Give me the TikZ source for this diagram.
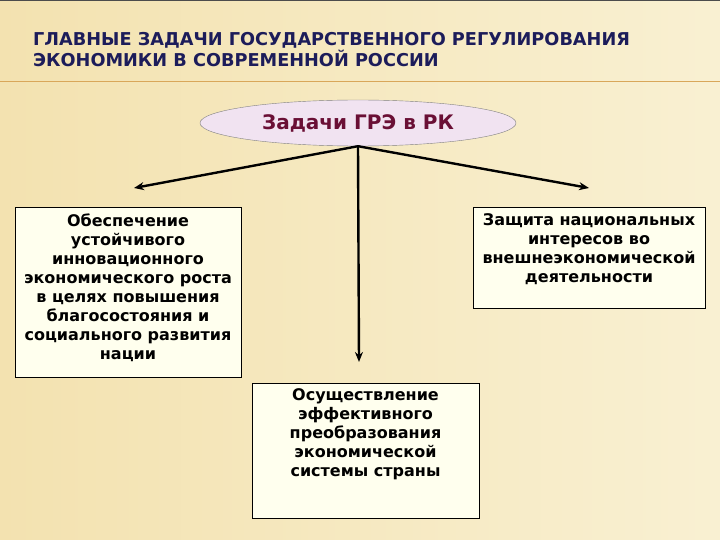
\documentclass[tikz,border=0pt]{standalone}
\usepackage{fontspec}
\setmainfont{DejaVu Sans}
\usetikzlibrary{shapes.geometric, arrows.meta}

\definecolor{bgleft}{HTML}{F3E2B0}
\definecolor{bgright}{HTML}{F9F0D2}
\definecolor{titleblue}{HTML}{1C1C5A}
\definecolor{ovalfill}{HTML}{F1E3F1}
\definecolor{ovaltext}{HTML}{6A0F35}
\definecolor{boxfill}{HTML}{FFFFEE}
\definecolor{rulecol}{HTML}{D9A75A}

\begin{document}
\begin{tikzpicture}[x=1pt, y=-1pt,
    taskbox/.style={draw=black, fill=boxfill, line width=0.8pt, inner sep=0pt},
    tasktext/.style={anchor=north, align=center, font=\bfseries\fontsize{16}{19}\selectfont},
    branch/.style={line width=2.4pt, -{Stealth[length=10pt, width=8pt]}}]
    \useasboundingbox (0, 0) rectangle (720, 540);
    \shade[left color=bgleft, right color=bgright] (0, 0) rectangle (720, 540);
    \draw[black!70, line width=1.5pt] (0, 0) -- (720, 0);
    \draw[rulecol, line width=1pt] (0, 82) -- (720, 82);

    \node[anchor=north west, align=left, text=titleblue, inner sep=0pt,
      font=\bfseries\fontsize{17.7}{21}\selectfont] (title) at (33, 32)
      {ГЛАВНЫЕ ЗАДАЧИ ГОСУДАРСТВЕННОГО РЕГУЛИРОВАНИЯ\\
       ЭКОНОМИКИ В СОВРЕМЕННОЙ РОССИИ};

    \node[draw=black!50, fill=ovalfill, ellipse, minimum width=316pt, minimum height=46pt,
      text=ovaltext, font=\bfseries\fontsize{20}{22}\selectfont] (grp) at (358, 123)
      {Задачи ГРЭ в РК};

    \node[taskbox, minimum width=226pt, minimum height=170pt] (left) at (128, 292) {};
    \node[taskbox, minimum width=232pt, minimum height=101pt] (right) at (589, 257.5) {};
    \node[taskbox, minimum width=227pt, minimum height=135pt] (bottom) at (365.5, 450.5) {};

    \node[tasktext] (lefttext) at ([yshift=-4pt]left.north)
      {Обеспечение\\ устойчивого\\ инновационного\\ экономического роста\\
       в целях повышения\\ благосостояния и\\ социального развития\\ нации};
    \node[tasktext] (righttext) at ([yshift=-3pt]right.north)
      {Защита национальных\\ интересов во\\ внешнеэкономической\\ деятельности};
    \node[tasktext] (bottomtext) at ([yshift=-2pt]bottom.north)
      {Осуществление\\ эффективного\\ преобразования\\ экономической\\ системы страны};

    \coordinate (tipL) at (134, 188);
    \coordinate (tipR) at (589, 188);
    \coordinate (tipB) at (359, 362);

    \draw[branch] (grp.south) -- (tipL);
    \draw[branch] (grp.south) -- (tipR);
    \draw[branch] (grp.south) -- (tipB);
\end{tikzpicture}
\end{document}
